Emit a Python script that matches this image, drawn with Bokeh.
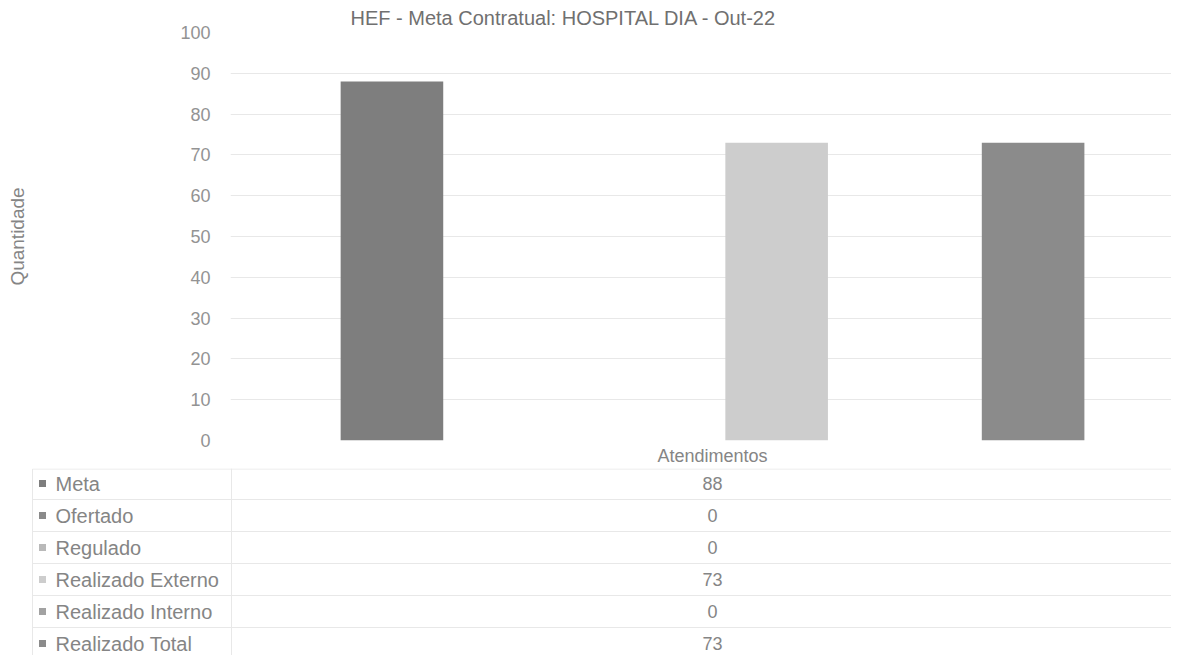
from bokeh.plotting import figure
from bokeh.models import ColumnDataSource, Range1d, FixedTicker
from bokeh.embed import file_html
from bokeh.resources import INLINE

# ---- data ----
title_text = "HEF - Meta Contratual: HOSPITAL DIA - Out-22"
category = "Atendimentos"
series = ["Meta", "Ofertado", "Regulado", "Realizado Externo", "Realizado Interno", "Realizado Total"]
values = [88, 0, 0, 73, 0, 73]
colors = ["#7e7e7e", "#8a8a8a", "#b9b9b9", "#cdcdcd", "#a2a2a2", "#8b8b8b"]
y_ticks = [0, 10, 20, 30, 40, 50, 60, 70, 80, 90, 100]
y_label = "Quantidade"

FONT = "Liberation Sans"
TXT = "#858585"
GRID = "#e8e8e8"

W = 1171
FRAME_LEFT = 230
TOP_H = 468
TABLE_H = 187

n = len(series)
offsets = [i - (n - 1) / 2 for i in range(n)]
x0, x1 = -3.759, 3.626 - 6 / 128.5

p = figure(width=W, height=TOP_H, output_backend="svg", toolbar_location=None,
           x_range=Range1d(x0, x1), y_range=Range1d(0, 100),
           min_border_left=FRAME_LEFT, min_border_right=0,
           min_border_top=0, min_border_bottom=26)
p.outline_line_color = None
p.xgrid.grid_line_color = None
p.ygrid.grid_line_color = GRID
p.ygrid.ticker = FixedTicker(ticks=y_ticks)

# category axis (table header)
p.xaxis.ticker = FixedTicker(ticks=[0])
p.xaxis.major_label_overrides = {0: category}
p.xaxis.axis_line_color = None
p.xaxis.major_tick_line_color = None
p.xaxis.minor_tick_line_color = None
p.xaxis.major_tick_out = 0
p.xaxis.major_tick_in = 0
p.xaxis.major_label_standoff = 5
p.xaxis.major_label_text_font = FONT
p.xaxis.major_label_text_font_size = "18px"
p.xaxis.major_label_text_color = TXT

p.yaxis.ticker = FixedTicker(ticks=y_ticks)
p.yaxis.axis_line_color = None
p.yaxis.major_tick_line_color = None
p.yaxis.minor_tick_line_color = None
p.yaxis.major_tick_out = 0
p.yaxis.major_tick_in = 0
p.yaxis.major_label_standoff = 20
p.yaxis.major_label_text_font = FONT
p.yaxis.major_label_text_font_size = "18px"
p.yaxis.major_label_text_color = "#939393"
p.yaxis.axis_label = y_label
p.yaxis.axis_label_standoff = 149
p.yaxis.axis_label_text_font = FONT
p.yaxis.axis_label_text_font_size = "19px"
p.yaxis.axis_label_text_font_style = "normal"
p.yaxis.axis_label_text_color = TXT

p.title.text = title_text
p.title.align = "left"
p.title.offset = 120
p.title.standoff = 8
p.title.text_font = FONT
p.title.text_font_size = "20px"
p.title.text_font_style = "normal"
p.title.text_color = "#707070"

src = ColumnDataSource(dict(x=offsets, top=values, color=colors, name=series))
p.vbar(x="x", top="top", width=0.8, fill_color="color", line_color=None, source=src)

# ---- data table ----
frame_w = W - FRAME_LEFT
px_per_unit = frame_w / (x1 - x0)
cat_center = FRAME_LEFT + (0 - x0) * px_per_unit

t = figure(width=W, height=TABLE_H, output_backend="svg", toolbar_location=None,
           x_range=Range1d(0, W), y_range=Range1d(TABLE_H, 0),
           min_border=0, min_border_left=0, min_border_right=0,
           min_border_top=0, min_border_bottom=0)
t.outline_line_color = None
t.axis.visible = False
t.grid.grid_line_color = None

row_y = [15 + 32 * i for i in range(n)]
bounds = [y - 16 for y in row_y]
bounds[0] = 0.5
left_edge = 32

t.segment(x0=[left_edge] * n, y0=bounds, x1=[W] * n, y1=bounds, line_color=GRID, line_width=1)
t.segment(x0=[FRAME_LEFT + 1, left_edge], y0=[0, bounds[0]], x1=[FRAME_LEFT + 1, left_edge],
          y1=[TABLE_H, TABLE_H], line_color=GRID, line_width=1)

tsrc = ColumnDataSource(dict(
    lx=[55] * n, mx=[42] * n, vx=[cat_center] * n, y=row_y,
    name=series, val=[str(v) for v in values], color=colors))
t.scatter(x="mx", y="y", marker="square", size=7, fill_color="color", line_color=None, source=tsrc)
t.text(x="lx", y="y", text="name", text_align="left", text_baseline="middle",
       text_font={"value": FONT}, text_font_size="20px", text_color=TXT, source=tsrc)
t.text(x="vx", y="y", text="val", text_align="center", text_baseline="middle",
       text_font={"value": FONT}, text_font_size="18px", text_color=TXT, source=tsrc)

open("out.html", "w").write(file_html([p, t], INLINE))
